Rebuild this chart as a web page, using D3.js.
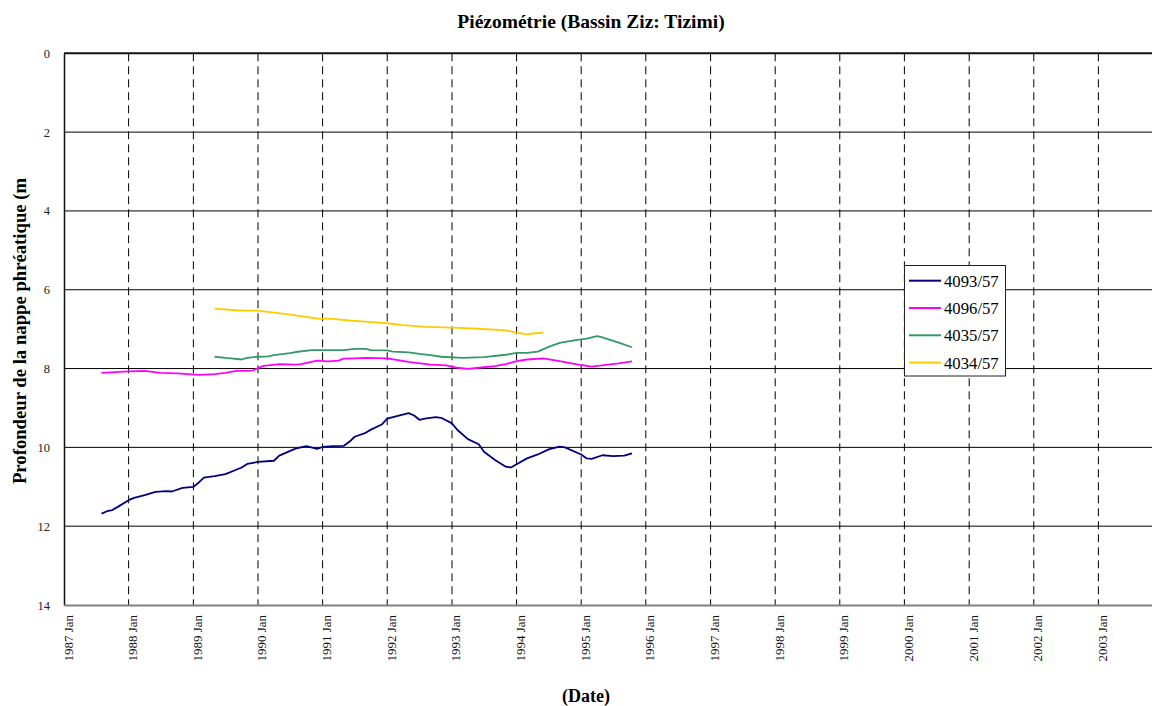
<!DOCTYPE html>
<html>
<head>
<meta charset="utf-8">
<script src="https://cdn.jsdelivr.net/npm/d3@7"></script>
<style>
  html, body { margin: 0; padding: 0; background: #fff; overflow: hidden; }
  svg { display: block; }
  svg text { font-family: "Liberation Serif", "Times New Roman", Times, "DejaVu Serif", serif !important; }
</style>
</head>
<body>
<svg id="chart" width="1152" height="706"></svg>
<script>
// ---- DATA ----
const title = "Piézométrie (Bassin Ziz: Tizimi)";
const yLabel = "Profondeur de la nappe phréatique (m";
const xLabel = "(Date)";
const yTicks = [0, 2, 4, 6, 8, 10, 12, 14];
const xTickYears = [1987, 1988, 1989, 1990, 1991, 1992, 1993, 1994, 1995, 1996, 1997, 1998, 1999, 2000, 2001, 2002, 2003];
const seriesNames = ["4093/57", "4096/57", "4035/57", "4034/57"];
const seriesColors = ["#000080", "#FF00FF", "#339966", "#FFCC00"];

const s4093Dates = ["1987-08","1987-09","1987-10","1987-11","1988-01","1988-02","1988-04","1988-06","1988-08","1988-09","1988-11","1989-01","1989-02","1989-03","1989-05","1989-07","1989-10","1989-11","1990-01","1990-04","1990-05","1990-08","1990-10","1990-12","1991-01","1991-03","1991-05","1991-06","1991-07","1991-09","1991-10","1991-12","1992-01","1992-03","1992-05","1992-06","1992-07","1992-08","1992-10","1992-11","1993-01","1993-02","1993-04","1993-06","1993-07","1993-09","1993-11","1993-12","1994-01","1994-03","1994-05","1994-07","1994-09","1994-10","1995-01","1995-02","1995-03","1995-05","1995-07","1995-09","1995-10-15"];
const s4093Values = [11.68,11.62,11.59,11.51,11.34,11.28,11.21,11.13,11.11,11.12,11.03,11.00,10.89,10.77,10.73,10.68,10.51,10.42,10.37,10.34,10.21,10.03,9.97,10.04,9.99,9.97,9.96,9.86,9.73,9.63,9.55,9.42,9.27,9.20,9.13,9.19,9.30,9.27,9.23,9.25,9.39,9.56,9.79,9.92,10.11,10.32,10.49,10.51,10.43,10.28,10.18,10.05,9.98,10.00,10.18,10.28,10.29,10.20,10.22,10.21,10.15];

const s4096Dates = ["1987-08","1988-01","1988-04","1988-07","1988-10","1989-02","1989-05","1989-07","1989-09","1989-11","1989-12","1990-01","1990-02","1990-05","1990-08","1990-09","1990-12","1991-02","1991-04","1991-05","1991-07","1991-09","1992-01","1992-05","1992-09","1992-12","1993-02","1993-04","1993-06","1993-09","1993-11","1994-01","1994-03","1994-06","1994-09","1995-01","1995-03","1995-06","1995-08","1995-10-15"];
const s4096Values = [8.11,8.07,8.06,8.11,8.12,8.16,8.14,8.11,8.06,8.06,8.05,7.99,7.93,7.89,7.90,7.89,7.80,7.82,7.80,7.75,7.74,7.73,7.74,7.83,7.90,7.92,7.98,8.01,7.98,7.94,7.89,7.81,7.77,7.74,7.81,7.91,7.95,7.90,7.87,7.82];

const s4035Dates = ["1989-05","1989-07","1989-08","1989-10","1989-11","1990-01","1990-03","1990-04","1990-07","1990-08","1990-11","1991-02","1991-05","1991-07","1991-09","1991-10","1992-01","1992-02","1992-05","1992-07","1992-09","1992-11","1993-03","1993-07","1993-11","1994-01","1994-03","1994-05","1994-07","1994-09","1994-12","1995-02","1995-04","1995-05","1995-08","1995-10-15"];
const s4035Values = [7.70,7.73,7.74,7.77,7.73,7.70,7.69,7.66,7.61,7.58,7.53,7.53,7.53,7.50,7.50,7.53,7.54,7.57,7.59,7.63,7.66,7.70,7.73,7.71,7.65,7.60,7.60,7.57,7.45,7.35,7.28,7.24,7.18,7.21,7.34,7.46];

const s4034Dates = ["1989-05","1989-09","1989-11","1990-01","1990-04","1990-06","1990-09","1990-12","1991-03","1991-06","1991-09","1992-01","1992-04","1992-08","1993-01","1993-06","1993-11","1994-01","1994-03","1994-04","1994-06"];
const s4034Values = [6.48,6.52,6.53,6.53,6.58,6.61,6.67,6.73,6.74,6.78,6.81,6.85,6.90,6.94,6.96,6.99,7.03,7.09,7.13,7.11,7.09];

// ---- BUILD ----
const FONT = "'Liberation Serif', 'Times New Roman', Times, 'DejaVu Serif', serif";
const parseM = d3.timeParse("%Y-%m");
const parseD = d3.timeParse("%Y-%m-%d");
const toDate = s => s.length > 7 ? parseD(s) : parseM(s);
const build = (dates, vals) => dates.map((d, i) => ({ date: toDate(d), value: vals[i] }));
const series = [
  build(s4093Dates, s4093Values),
  build(s4096Dates, s4096Values),
  build(s4035Dates, s4035Values),
  build(s4034Dates, s4034Values)
];

const svg = d3.select("#chart");
const pLeft = 64, pTop = 53.3, pBottom = 605, pRight = 1163;

const x = d3.scaleTime()
  .domain([new Date(1987, 0, 1), new Date(2004, 0, 1)])
  .range([pLeft, pRight]);
const y = d3.scaleLinear().domain([0, 14]).range([pTop, pBottom]);

// horizontal gridlines
svg.append("g").selectAll("line")
  .data(yTicks.filter(v => v > 0 && v < 14))
  .join("line")
  .attr("x1", pLeft).attr("x2", pRight)
  .attr("y1", d => y(d)).attr("y2", d => y(d))
  .attr("stroke", "#000").attr("stroke-width", 1);

// vertical dashed gridlines
svg.append("g").selectAll("line")
  .data(xTickYears.filter(v => v > 1987))
  .join("line")
  .attr("x1", d => x(new Date(d, 0, 1))).attr("x2", d => x(new Date(d, 0, 1)))
  .attr("y1", pTop).attr("y2", pBottom)
  .attr("stroke", "#000").attr("stroke-width", 1)
  .attr("stroke-dasharray", "8,5");

// top border
svg.append("line")
  .attr("x1", pLeft).attr("x2", pRight).attr("y1", pTop).attr("y2", pTop)
  .attr("stroke", "#111").attr("stroke-width", 2);

// y axis
const yAxis = d3.axisLeft(y).tickValues(yTicks).tickSize(0).tickPadding(14);
const gy = svg.append("g").attr("transform", `translate(${pLeft},0)`).call(yAxis);
gy.attr("font-family", FONT);
gy.select(".domain").attr("stroke", "#111").attr("stroke-width", 1.5);
gy.selectAll("text")
  .attr("font-size", 12.5).attr("fill", "#222");

// x axis
const xAxis = d3.axisBottom(x)
  .tickValues(xTickYears.map(yr => new Date(yr, 0, 1)))
  .tickSize(0)
  .tickFormat(d => d3.timeFormat("%Y")(d) + " Jan");
const gx = svg.append("g").attr("transform", `translate(0,${pBottom})`).call(xAxis);
gx.attr("font-family", FONT);
gx.select(".domain").attr("stroke", "#808080").attr("stroke-width", 2);
gx.selectAll("text")
  .attr("font-size", 13).attr("fill", "#111")
  .attr("text-anchor", "end")
  .attr("dy", null)
  .attr("y", 0)
  .attr("transform", "translate(8,10) rotate(-90)");

// lines
const line = d3.line().x(d => x(d.date)).y(d => y(d.value)).curve(d3.curveLinear);
svg.append("g").selectAll("path")
  .data(series)
  .join("path")
  .attr("d", line)
  .attr("fill", "none")
  .attr("stroke", (d, i) => seriesColors[i])
  .attr("stroke-width", 1.8)
  .attr("stroke-linejoin", "round");

// title
svg.append("text")
  .attr("x", 591).attr("y", 28)
  .attr("text-anchor", "middle")
  .attr("font-family", FONT)
  .attr("font-weight", "bold").attr("font-size", 19.5)
  .attr("fill", "#000")
  .text(title);

// y label
svg.append("text")
  .attr("transform", "translate(25.5,331) rotate(-90)")
  .attr("text-anchor", "middle")
  .attr("font-family", FONT)
  .attr("font-weight", "bold").attr("font-size", 18.7)
  .attr("fill", "#000")
  .text(yLabel);

// x label
svg.append("text")
  .attr("x", 586).attr("y", 702)
  .attr("text-anchor", "middle")
  .attr("font-family", FONT)
  .attr("font-weight", "bold").attr("font-size", 18)
  .attr("fill", "#000")
  .text(xLabel);

// legend
const lg = svg.append("g");
lg.append("rect")
  .attr("x", 904.5).attr("y", 265.5).attr("width", 101).attr("height", 110.5)
  .attr("fill", "#fff").attr("stroke", "#222").attr("stroke-width", 1);
const items = lg.selectAll("g.item").data(seriesNames).join("g")
  .attr("class", "item")
  .attr("transform", (d, i) => `translate(0,${280.7 + i * 27.3})`);
items.append("line")
  .attr("x1", 909).attr("x2", 941).attr("y1", 0).attr("y2", 0)
  .attr("stroke", (d, i) => seriesColors[i]).attr("stroke-width", 2);
items.append("text")
  .attr("x", 944).attr("y", 6)
  .attr("font-family", FONT)
  .attr("font-size", 16.7).attr("fill", "#000")
  .text(d => d);
</script>
</body>
</html>
